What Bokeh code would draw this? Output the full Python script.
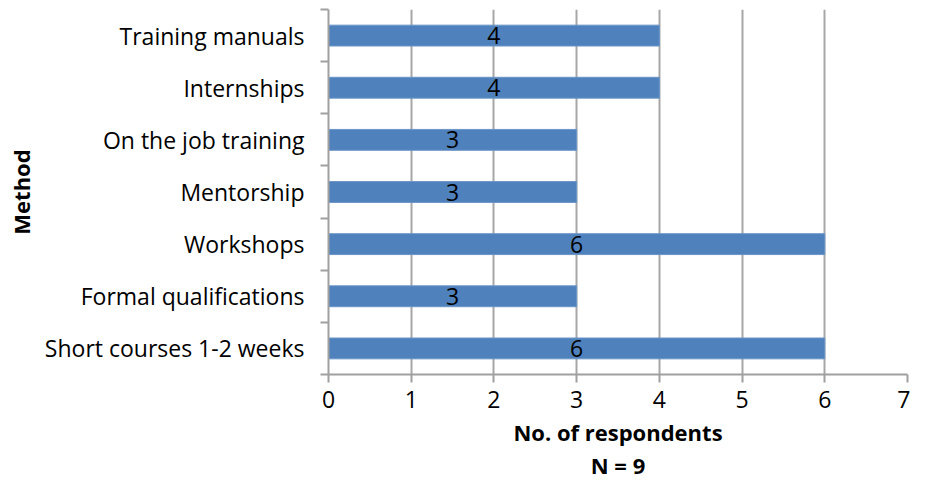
from bokeh.plotting import figure
from bokeh.models import Range1d, FixedTicker, ColumnDataSource
from bokeh.embed import file_html
from bokeh.resources import INLINE
from bokeh.core.properties import value

# Categories listed bottom to top
methods = ["Short courses 1-2 weeks", "Formal qualifications", "Workshops",
           "Mentorship", "On the job training", "Internships", "Training manuals"]
respondents = [6, 3, 6, 3, 3, 4, 4]
x_ticks = [0, 1, 2, 3, 4, 5, 6, 7]

FONT = "Open Sans"
FS = "23px"
pos = [i + 0.5 for i in range(len(methods))]
src = ColumnDataSource(dict(
    y=pos, v=respondents, mid=[r / 2 for r in respondents],
    lab=[str(r) for r in respondents]))

p = figure(width=910, height=482, output_backend="svg", toolbar_location=None,
           x_range=Range1d(0, 7), y_range=Range1d(0, len(methods)),
           min_border_left=328, min_border_right=3, min_border_top=9, min_border_bottom=108)

p.hbar(y="y", left=0, right="v", height=0.4, source=src,
       fill_color="#4F81BD", line_color="#6A95C8", line_width=1)
p.text(x="mid", y="y", text="lab", source=src, text_align="center",
       text_baseline="middle", text_font=value(FONT), text_font_size=FS,
       text_color="black")

p.outline_line_color = None
p.background_fill_color = "white"
p.border_fill_color = "white"

# x axis
p.xaxis.ticker = FixedTicker(ticks=x_ticks)
p.xaxis.axis_line_color = "#A0A0A0"
p.xaxis.axis_line_width = 2
p.xaxis.major_tick_line_color = "#A0A0A0"
p.xaxis.major_tick_line_width = 2
p.xaxis.major_tick_out = 8
p.xaxis.major_tick_in = 0
p.xaxis.minor_tick_line_color = None
p.xaxis.major_label_text_font = FONT
p.xaxis.major_label_text_font_size = FS
p.xaxis.major_label_text_color = "black"
p.xaxis.major_label_standoff = 8
p.xaxis.axis_label = "No. of respondents\nN = 9"
p.xaxis.axis_label_text_font = FONT
p.xaxis.axis_label_text_font_style = "bold"
p.xaxis.axis_label_text_font_size = "22px"
p.xaxis.axis_label_text_color = "black"
p.xaxis.axis_label_text_line_height = 1.1
p.xaxis.axis_label_standoff = 6

# y axis
p.yaxis.ticker = FixedTicker(ticks=pos, minor_ticks=list(range(len(methods) + 1)))
p.yaxis.major_label_overrides = {pv: m for pv, m in zip(pos, methods)}
p.yaxis.axis_line_color = "#A0A0A0"
p.yaxis.axis_line_width = 2
p.yaxis.major_tick_line_color = None
p.yaxis.minor_tick_line_color = "#A0A0A0"
p.yaxis.minor_tick_line_width = 2
p.yaxis.minor_tick_out = 8
p.yaxis.minor_tick_in = 0
p.yaxis.major_label_text_font = FONT
p.yaxis.major_label_text_font_size = FS
p.yaxis.major_label_text_color = "black"
p.yaxis.major_label_standoff = 16
p.yaxis.axis_label = "Method"
p.yaxis.axis_label_text_font = FONT
p.yaxis.axis_label_text_font_style = "bold"
p.yaxis.axis_label_text_font_size = "22px"
p.yaxis.axis_label_text_color = "black"
p.yaxis.axis_label_standoff = 6

p.xgrid.ticker = FixedTicker(ticks=x_ticks)
p.xgrid.grid_line_color = "#A6A6A6"
p.xgrid.grid_line_width = 2
p.ygrid.grid_line_color = None

open("out.html", "w").write(file_html(p, INLINE))
